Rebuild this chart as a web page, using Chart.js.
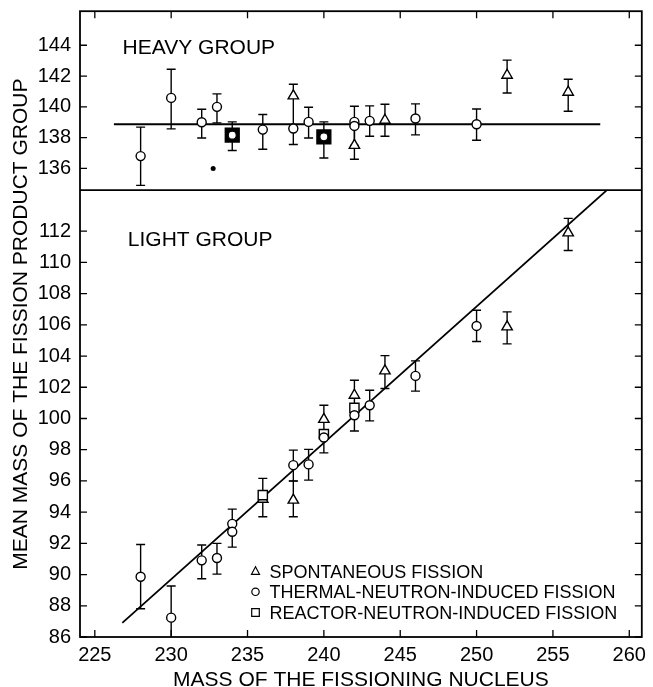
<!DOCTYPE html>
<html><head><meta charset="utf-8">
<script src="https://cdn.jsdelivr.net/npm/chart.js@4.4.1/dist/chart.umd.min.js"></script>
<style>html,body{margin:0;padding:0;background:#fff}#wrap{width:653px;height:687px}</style>
</head><body><div id="wrap"><canvas id="c" width="653" height="687"></canvas></div>
<script>
// ---- tick labels ----
const xTicks = [225, 230, 235, 240, 245, 250, 255, 260];
const heavyTicks = [136, 138, 140, 142, 144];
const lightTicks = [86, 88, 90, 92, 94, 96, 98, 100, 102, 104, 106, 108, 110, 112];

// ---- HEAVY GROUP ----
const heavyThermalX  = [228, 230, 232, 233, 236, 238, 239, 242, 242, 243, 246, 250];
const heavyThermalY  = [136.8, 140.58, 139.0, 140.0, 138.52, 138.59, 139.02, 139.02, 138.76, 139.09, 139.24, 138.87];
const heavyThermalLo = [134.9, 138.57, 137.98, 138.96, 137.25, 137.55, 137.98, 138.76, 137.5, 138.09, 138.18, 137.83];
const heavyThermalHi = [138.68, 142.44, 139.84, 140.84, 139.5, 138.59, 139.97, 140.04, 138.76, 140.06, 140.19, 139.86];

const heavySpontX  = [238, 242, 244, 252, 256];
const heavySpontY  = [140.71, 137.5, 139.13, 142.05, 140.95];
const heavySpontLo = [138.59, 136.6, 138.09, 140.9, 139.71];
const heavySpontHi = [141.47, 138.76, 140.17, 143.03, 141.79];

const heavyReactorX  = [234, 240];
const heavyReactorY  = [138.16, 138.05];
const heavyReactorLo = [137.16, 136.68];
const heavyReactorHi = [139.02, 139.02];

const heavyDotX = [232.75];
const heavyDotY = [136.0];

const heavyFitX = [226.25, 258.1];
const heavyFitY = [138.87, 138.87];

// ---- LIGHT GROUP ----
const lightThermalX  = [228, 230, 232, 233, 234, 234, 238, 239, 240, 242, 243, 246, 250];
const lightThermalY  = [89.86, 87.24, 90.91, 91.06, 93.25, 92.74, 97.01, 97.06, 98.78, 100.21, 100.85, 102.73, 105.93];
const lightThermalLo = [87.81, 85.2, 89.73, 90.03, 92.74, 91.76, 96.0, 96.05, 97.8, 99.2, 99.85, 101.75, 104.93];
const lightThermalHi = [91.93, 89.27, 91.89, 92.0, 94.19, 92.74, 97.97, 98.02, 98.78, 100.21, 101.81, 103.69, 106.93];

const lightSpontX  = [236, 238, 240, 242, 244, 252, 256];
const lightSpontY  = [94.83, 94.77, 99.94, 101.49, 103.05, 105.87, 111.89];
const lightSpontLo = [93.7, 93.7, 98.78, 100.21, 101.92, 104.78, 110.76];
const lightSpontHi = [96.16, 95.99, 100.85, 102.45, 104.03, 106.83, 112.82];

const lightReactorX = [236, 240, 242];
const lightReactorY = [95.09, 99.0, 100.68];

const lightFitX = [226.8, 258.5];
const lightFitY = [86.9, 114.6];

const legendLabels = ['SPONTANEOUS FISSION', 'THERMAL-NEUTRON-INDUCED FISSION', 'REACTOR-NEUTRON-INDUCED FISSION'];

const pts = (X, Y) => X.map((x, i) => ({x: x, y: Y[i]}));
const FONT = "'Liberation Sans', Arial, Helvetica, sans-serif";

const errorBars = {
  id: 'errorBars',
  beforeDatasetsDraw(chart) {
    const ctx = chart.ctx, a = chart.chartArea;
    chart.data.datasets.forEach((ds, di) => {
      if (!ds.errLo) return;
      const meta = chart.getDatasetMeta(di);
      const ys = chart.scales[ds.yAxisID];
      ctx.save();
      ctx.beginPath();
      ctx.rect(a.left, ys.top, a.right - a.left, ys.bottom - ys.top);
      ctx.clip();
      ctx.strokeStyle = '#000';
      ctx.lineWidth = 1.4;
      meta.data.forEach((p, i) => {
        const y1 = ys.getPixelForValue(ds.errLo[i]);
        const y2 = ys.getPixelForValue(ds.errHi[i]);
        ctx.beginPath();
        ctx.moveTo(p.x, y1); ctx.lineTo(p.x, y2);
        ctx.moveTo(p.x - 4.5, y1); ctx.lineTo(p.x + 4.5, y1);
        ctx.moveTo(p.x - 4.5, y2); ctx.lineTo(p.x + 4.5, y2);
        ctx.stroke();
      });
      ctx.restore();
    });
  }
};

const frame = {
  id: 'frame',
  afterDraw(chart) {
    const ctx = chart.ctx, a = chart.chartArea;
    const x = chart.scales.x, yH = chart.scales.yH, yL = chart.scales.yL;
    ctx.save();
    ctx.strokeStyle = '#000';
    ctx.lineWidth = 1.8;
    ctx.strokeRect(a.left, a.top, a.right - a.left, a.bottom - a.top);
    ctx.beginPath();
    ctx.moveTo(a.left, yL.top); ctx.lineTo(a.right, yL.top);
    ctx.stroke();
    const T = 7;
    ctx.beginPath();
    xTicks.forEach(v => {
      const px = x.getPixelForValue(v);
      ctx.moveTo(px, a.top); ctx.lineTo(px, a.top + T);
      ctx.moveTo(px, a.bottom); ctx.lineTo(px, a.bottom - T);
    });
    [[yH, heavyTicks], [yL, lightTicks]].forEach(([s, t]) => t.forEach(v => {
      const py = s.getPixelForValue(v);
      ctx.moveTo(a.left, py); ctx.lineTo(a.left + T, py);
      ctx.moveTo(a.right, py); ctx.lineTo(a.right - T, py);
    }));
    ctx.lineWidth = 1.3;
    ctx.stroke();

    ctx.fillStyle = '#000';
    // axis titles
    ctx.font = '21px ' + FONT;
    ctx.textAlign = 'center';
    ctx.textBaseline = 'alphabetic';
    ctx.fillText('MASS OF THE FISSIONING NUCLEUS', (a.left + a.right) / 2, 686);
    ctx.save();
    ctx.translate(27, (a.top + a.bottom) / 2);
    ctx.rotate(-Math.PI / 2);
    ctx.fillText('MEAN MASS OF THE FISSION PRODUCT GROUP', 0, 0);
    ctx.restore();

    // panel labels
    ctx.textAlign = 'left';
    ctx.fillText('HEAVY GROUP', x.getPixelForValue(226.82), yH.getPixelForValue(143.46));
    ctx.fillText('LIGHT GROUP', x.getPixelForValue(227.16), yL.getPixelForValue(111.03));

    // legend
    ctx.font = '18px ' + FONT;
    const lx = 255.5, tx = 269.5, rows = [577.5, 598.3, 619];
    ctx.lineWidth = 1.2;
    rows.forEach((by, i) => {
      const cy = by - 6.5;
      ctx.beginPath();
      if (i === 0) {
        ctx.moveTo(lx, cy - 4.3); ctx.lineTo(lx + 4, cy + 3.3); ctx.lineTo(lx - 4, cy + 3.3); ctx.closePath();
      } else if (i === 1) {
        ctx.arc(lx, cy, 3.7, 0, Math.PI * 2);
      } else {
        ctx.rect(lx - 3.8, cy - 3.8, 7.6, 7.6);
      }
      ctx.stroke();
      ctx.fillText(legendLabels[i], tx, by);
    });
    ctx.restore();
  }
};

const circle = {pointStyle: 'circle', pointRadius: 4.5, pointBackgroundColor: '#fff', pointBorderColor: '#000', pointBorderWidth: 1.4};
const tri = {pointStyle: 'triangle', pointRadius: 6, pointBackgroundColor: '#fff', pointBorderColor: '#000', pointBorderWidth: 1.4};
const sq = {pointStyle: 'rect', pointRadius: 6.5, pointBackgroundColor: '#fff', pointBorderColor: '#000', pointBorderWidth: 1.4};

const fitY = s => { s.width = 80; s.paddingTop = 0; s.paddingBottom = 0; };

const chart = new Chart(document.getElementById('c'), {
  type: 'scatter',
  data: {
    datasets: [
      Object.assign({label: 'reactor (inner)', data: pts(heavyReactorX, heavyReactorY), yAxisID: 'yH'}, circle, {pointRadius: 4, pointBorderWidth: 1.2}),
      Object.assign({label: 'thermal heavy', data: pts(heavyThermalX, heavyThermalY), yAxisID: 'yH', errLo: heavyThermalLo, errHi: heavyThermalHi}, circle),
      Object.assign({label: 'thermal light', data: pts(lightThermalX, lightThermalY), yAxisID: 'yL', errLo: lightThermalLo, errHi: lightThermalHi}, circle),
      Object.assign({label: 'reactor heavy', data: pts(heavyReactorX, heavyReactorY), yAxisID: 'yH', errLo: heavyReactorLo, errHi: heavyReactorHi}, sq, {pointRadius: 9.8, pointBackgroundColor: '#000'}),
      Object.assign({label: 'reactor light', data: pts(lightReactorX, lightReactorY), yAxisID: 'yL'}, sq),
      Object.assign({label: 'spontaneous heavy', data: pts(heavySpontX, heavySpontY), yAxisID: 'yH', errLo: heavySpontLo, errHi: heavySpontHi}, tri),
      Object.assign({label: 'spontaneous light', data: pts(lightSpontX, lightSpontY), yAxisID: 'yL', errLo: lightSpontLo, errHi: lightSpontHi}, tri),
      {label: 'dot', data: pts(heavyDotX, heavyDotY), yAxisID: 'yH', pointRadius: 2.5, pointBackgroundColor: '#000', pointBorderColor: '#000', pointBorderWidth: 0},
      {label: 'heavy fit', data: pts(heavyFitX, heavyFitY), yAxisID: 'yH', showLine: true, borderColor: '#000', borderWidth: 1.8, pointRadius: 0},
      {label: 'light fit', data: pts(lightFitX, lightFitY), yAxisID: 'yL', showLine: true, borderColor: '#000', borderWidth: 1.8, pointRadius: 0}
    ]
  },
  options: {
    responsive: false,
    animation: false,
    events: [],
    layout: {padding: {top: 11, right: 5, left: 0, bottom: 0}},
    plugins: {legend: {display: false}, tooltip: {enabled: false}},
    scales: {
      x: {
        type: 'linear', min: 224.03, max: 260.82,
        grid: {display: false, drawTicks: false}, border: {display: false},
        afterBuildTicks: s => { s.ticks = xTicks.map(v => ({value: v})); },
        afterFit: s => { s.height = 50; s.paddingLeft = 0; s.paddingRight = 0; },
        ticks: {autoSkip: false, maxRotation: 0, padding: 6, color: '#000', font: {family: FONT, size: 20}}
      },
      yL: {
        type: 'linear', position: 'left', stack: 'g', stackWeight: 447,
        min: 86, max: 114.63,
        grid: {display: false, drawTicks: false}, border: {display: false},
        afterBuildTicks: s => { s.ticks = lightTicks.map(v => ({value: v})); },
        afterFit: fitY,
        ticks: {autoSkip: false, padding: 9, color: '#000', font: {family: FONT, size: 20}}
      },
      yH: {
        type: 'linear', position: 'left', stack: 'g', stackWeight: 179,
        min: 134.59, max: 146.21,
        grid: {display: false, drawTicks: false}, border: {display: false},
        afterBuildTicks: s => { s.ticks = heavyTicks.map(v => ({value: v})); },
        afterFit: fitY,
        ticks: {autoSkip: false, padding: 9, color: '#000', font: {family: FONT, size: 20}}
      }
    }
  },
  plugins: [errorBars, frame]
});
</script>
</body></html>
